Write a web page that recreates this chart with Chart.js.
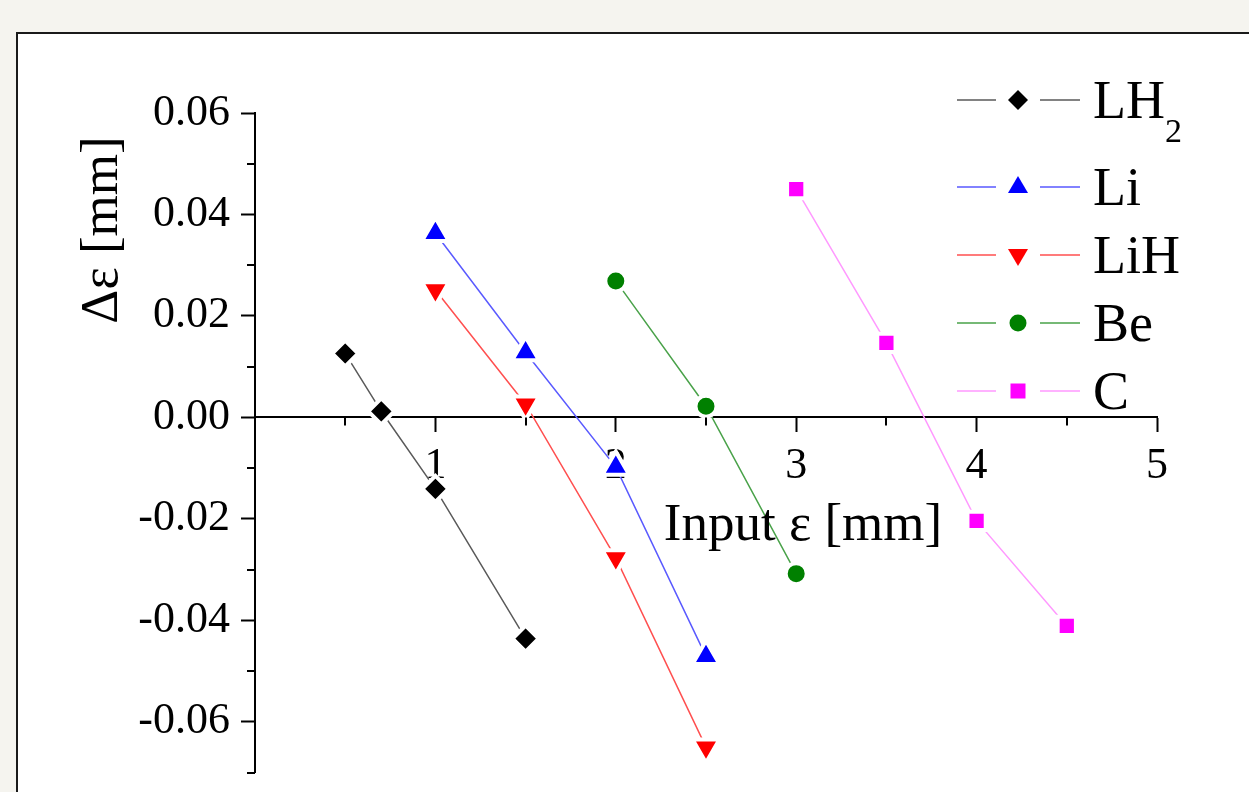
<!DOCTYPE html>
<html>
<head>
<meta charset="utf-8">
<script src="https://cdn.jsdelivr.net/npm/chart.js@4.4.0/dist/chart.umd.min.js"></script>
<style>
  html, body { margin: 0; padding: 0; background: #f5f4ef; overflow: hidden; }
  #frame { position: absolute; left: 16px; top: 32px; width: 1300px; height: 800px; background: #fff; border: 2px solid #1a1a1a; }
  #chart { position: absolute; left: 0; top: 0; }
</style>
</head>
<body>
<div id="frame"></div>
<canvas id="chart" width="1249" height="792"></canvas>
<script>
// data
const lh2X = [0.5, 0.7, 1.0, 1.5];
const lh2Y = [0.0126, 0.0012, -0.0141, -0.0436];
const liX = [1.0, 1.5, 2.0, 2.5];
const liY = [0.0363, 0.0128, -0.0098, -0.0471];
const lihX = [1.0, 1.5, 2.0, 2.5];
const lihY = [0.0251, 0.0026, -0.0277, -0.0650];
const beX = [2.0, 2.5, 3.0];
const beY = [0.0269, 0.0022, -0.0308];
const cX = [3.0, 3.5, 4.0, 4.5];
const cY = [0.0450, 0.0147, -0.0204, -0.0411];

const xTicks = [1, 2, 3, 4, 5];
const xMinorTicks = [0.5, 1.5, 2.5, 3.5, 4.5];
const yTicks = [-0.06, -0.04, -0.02, 0, 0.02, 0.04, 0.06];
const yMinorTicks = [-0.07, -0.05, -0.03, -0.01, 0.01, 0.03, 0.05];

const FONT = '"Liberation Serif", "Times New Roman", serif';

const pts = (xs, ys) => xs.map((x, i) => ({ x: x, y: ys[i] }));

const series = [
  { label: 'LH2', data: pts(lh2X, lh2Y), line: '#5a5a5a', fill: '#000000', style: 'rectRot', r: 13, rot: 0 },
  { label: 'Li', data: pts(liX, liY), line: '#5a5aff', fill: '#0000ff', style: 'triangle', r: 15.5, rot: 0 },
  { label: 'LiH', data: pts(lihX, lihY), line: '#ff5050', fill: '#ff0000', style: 'triangle', r: 15.5, rot: 180 },
  { label: 'Be', data: pts(beX, beY), line: '#4aa24a', fill: '#008000', style: 'circle', r: 10.5, rot: 0 },
  { label: 'C', data: pts(cX, cY), line: '#ff99ff', fill: '#ff00ff', style: 'rect', r: 12.9, rot: 0 }
];

// small marker drawer for the legend
function marker(ctx, style, x, y, fill) {
  ctx.fillStyle = fill;
  ctx.beginPath();
  if (style === 'rectRot') {
    ctx.moveTo(x, y - 10); ctx.lineTo(x + 10, y); ctx.lineTo(x, y + 10); ctx.lineTo(x - 10, y);
  } else if (style === 'triUp') {
    ctx.moveTo(x, y - 11); ctx.lineTo(x + 10, y + 6); ctx.lineTo(x - 10, y + 6);
  } else if (style === 'triDown') {
    ctx.moveTo(x, y + 11); ctx.lineTo(x + 10, y - 6); ctx.lineTo(x - 10, y - 6);
  } else if (style === 'circle') {
    ctx.arc(x, y, 8.5, 0, Math.PI * 2);
  } else {
    ctx.rect(x - 7.5, y - 7.5, 15, 15);
  }
  ctx.closePath();
  ctx.fill();
}

const decorations = {
  id: 'decorations',
  afterDraw(chart) {
    const ctx = chart.ctx;
    const xs = chart.scales.x, ys = chart.scales.y;
    const x0 = xs.getPixelForValue(0), y0 = ys.getPixelForValue(0);
    ctx.save();
    // minor ticks
    ctx.strokeStyle = '#000';
    ctx.lineWidth = 2;
    ctx.beginPath();
    yMinorTicks.forEach(v => {
      const py = Math.round(ys.getPixelForValue(v));
      ctx.moveTo(x0 - 8, py); ctx.lineTo(x0, py);
    });
    xMinorTicks.forEach(v => {
      const px = Math.round(xs.getPixelForValue(v));
      ctx.moveTo(px, y0); ctx.lineTo(px, y0 + 8);
    });
    ctx.stroke();

    // axis titles
    ctx.fillStyle = '#000';
    ctx.font = '53px ' + FONT;
    ctx.textAlign = 'center';
    ctx.textBaseline = 'alphabetic';
    ctx.fillText('Input ε [mm]', 803, 540);
    ctx.save();
    ctx.translate(117, 230);
    ctx.rotate(-Math.PI / 2);
    ctx.fillText('Δε [mm]', 0, 0);
    ctx.restore();

    // legend
    const styles = ['rectRot', 'triUp', 'triDown', 'circle', 'rect'];
    const rows = [100, 187, 255, 323, 391];
    series.forEach((s, i) => {
      const y = rows[i];
      ctx.strokeStyle = s.line;
      ctx.lineWidth = 1.5;
      ctx.beginPath();
      ctx.moveTo(957, y); ctx.lineTo(996, y);
      ctx.moveTo(1040, y); ctx.lineTo(1080, y);
      ctx.stroke();
      marker(ctx, styles[i], 1018, y, s.fill);
      ctx.fillStyle = '#000';
      ctx.textAlign = 'left';
      ctx.font = '54px ' + FONT;
      if (s.label === 'LH2') {
        ctx.fillText('LH', 1093, y + 18);
        const w = ctx.measureText('LH').width;
        ctx.font = '34px ' + FONT;
        ctx.fillText('2', 1093 + w, y + 42);
      } else {
        ctx.fillText(s.label, 1093, y + 18);
      }
    });
    ctx.restore();
  }
};

new Chart(document.getElementById('chart'), {
  type: 'scatter',
  data: {
    datasets: series.map(s => ({
      label: s.label,
      data: s.data,
      showLine: true,
      borderColor: s.line,
      borderWidth: 1.5,
      backgroundColor: s.fill,
      pointStyle: s.style,
      pointRotation: s.rot,
      pointRadius: s.r,
      pointHoverRadius: s.r,
      pointBorderColor: '#ffffff',
      pointBorderWidth: 4,
      tension: 0
    }))
  },
  options: {
    responsive: false,
    devicePixelRatio: 1,
    animation: false,
    layout: { padding: { left: 0, top: 113, right: 92, bottom: 17 } },
    plugins: { legend: { display: false }, tooltip: { enabled: false } },
    scales: {
      x: {
        type: 'linear',
        min: 0,
        max: 5,
        position: { y: 0 },
        z: 1,
        afterBuildTicks: scale => { scale.ticks = xTicks.map(v => ({ value: v })); },
        afterFit: scale => { scale.paddingLeft = 0; scale.paddingRight = 0; scale.paddingTop = 0; scale.paddingBottom = 0; },
        grid: { drawOnChartArea: false, drawTicks: true, tickLength: 14, tickColor: '#000', tickWidth: 2 },
        border: { display: true, color: '#000', width: 2 },
        ticks: { color: '#000', font: { family: FONT, size: 44 }, padding: 9, maxRotation: 0, autoSkip: false,
          callback: v => String(v) }
      },
      y: {
        type: 'linear',
        min: -0.07,
        max: 0.06,
        position: 'left',
        afterBuildTicks: scale => { scale.ticks = yTicks.map(v => ({ value: v })); },
        afterFit: scale => { scale.width = 255; scale.paddingTop = 0; scale.paddingBottom = 0; },
        grid: { drawOnChartArea: false, drawTicks: true, tickLength: 14, tickColor: '#000', tickWidth: 2 },
        border: { display: true, color: '#000', width: 2 },
        ticks: { color: '#000', font: { family: FONT, size: 44 }, padding: 11, autoSkip: false,
          callback: v => v.toFixed(2) }
      }
    }
  },
  plugins: [decorations]
});
</script>
</body>
</html>
